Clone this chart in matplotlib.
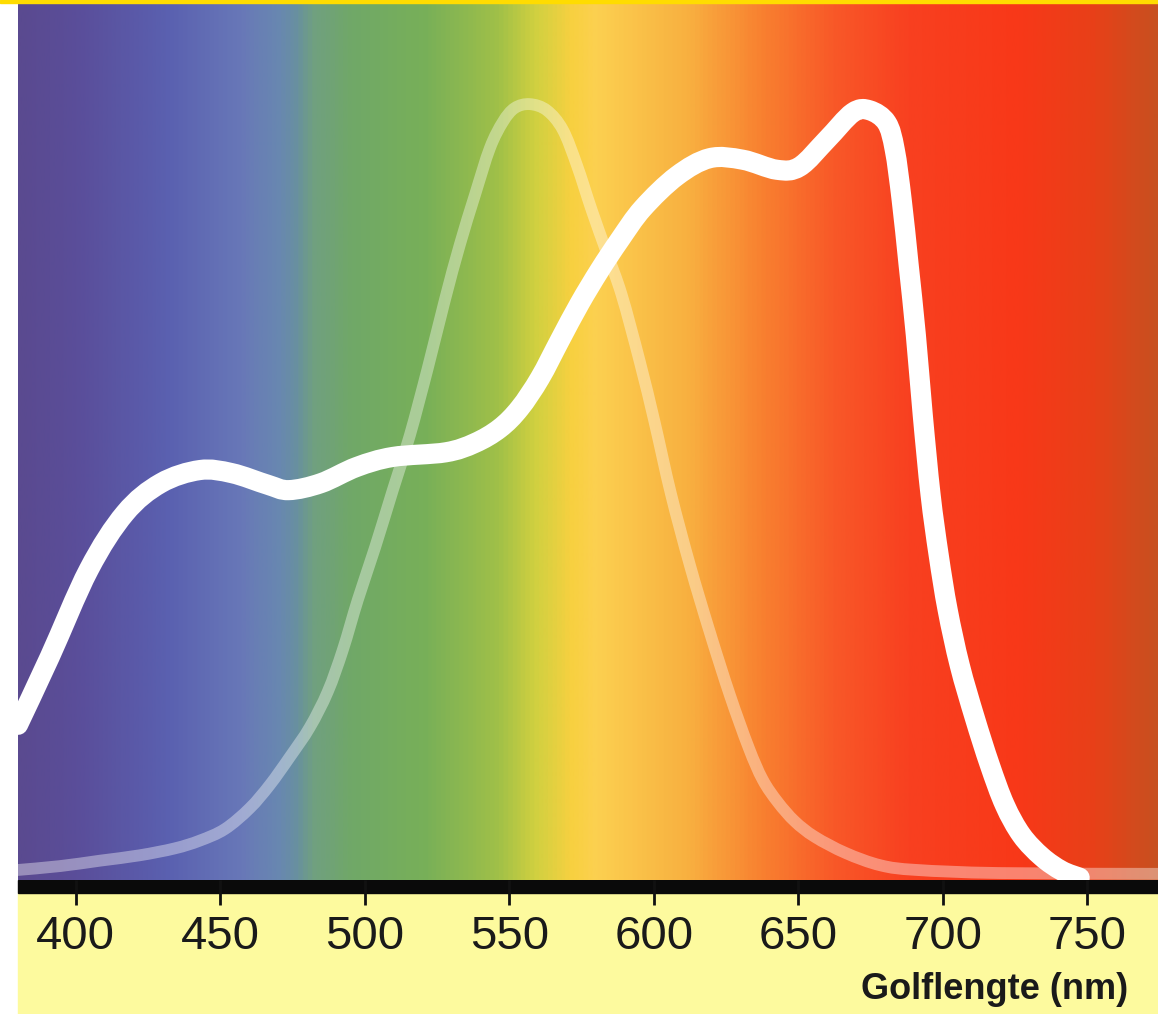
import numpy as np
from matplotlib import pyplot as plt
from matplotlib.colors import LinearSegmentedColormap
from matplotlib.patches import Rectangle, PathPatch
from matplotlib.path import Path

wl_plant = [380, 391, 404.5, 417, 429.4, 442.9, 454, 466.4, 473.7, 484.8,
            497.2, 509.7, 528, 538.1, 546.7, 553.6, 560.6, 567.5, 574.4,
            581.3, 588.2, 596.2, 608, 619.4, 630.8, 642.6, 650.5, 659.9,
            668.9, 674.7, 680.6, 683.4, 685.8, 688.2, 690.7, 693.1, 695.8,
            698.6, 701.7, 705.9, 711.1, 716.3, 721.5, 727.3, 734.3, 741.2,
            747.4]
val_plant = [20.1, 28.9, 40.2, 47.5, 51.4, 53.1, 52.7, 51.2, 50.5, 51.4,
             53.5, 54.8, 55.4, 56.6, 58.5, 61.1, 65.0, 69.9, 74.7, 79.0,
             82.9, 87.0, 91.2, 93.5, 93.3, 92.0, 92.4, 95.9, 99.4, 99.7,
             98.1, 94.6, 88.1, 79.7, 70.6, 60.2, 49.9, 42.1, 35.0, 27.8,
             21.0, 14.9, 9.7, 5.8, 3.0, 1.2, 0.3]

wl_eye = [380, 394.5, 408.3, 422.1, 434.3, 442.9, 451.6, 460.2, 467.1, 474,
          481, 487.2, 492.4, 497.6, 503.5, 509.7, 515.6, 521.8, 527.7, 532.9,
          538.1, 543.3, 547.8, 551.9, 557.1, 563, 568.5, 573.4, 578.5, 583.7,
          588.9, 595.2, 600.3, 605.9, 612.5, 619.4, 626.3, 632.9, 637.7,
          642.9, 648.8, 655.7, 666.4, 678.5, 691, 719.7, 774.5]
val_eye = [1.3, 1.8, 2.5, 3.2, 4.1, 5.1, 6.6, 9.3, 12.3, 15.9, 19.8, 24.4,
           29.8, 36.3, 43.0, 50.5, 57.6, 66.3, 75.1, 82.3, 88.7, 94.8, 98.2,
           100.0, 100.5, 99.7, 97.2, 92.6, 86.8, 81.3, 75.8, 67.1, 59.3, 50.1,
           40.8, 32.1, 24.0, 17.1, 13.0, 10.1, 7.6, 5.6, 3.5, 1.9, 1.3, 0.9,
           0.8]

ticks = [400, 450, 500, 550, 600, 650, 700, 750]
xlabel = 'Golflengte (nm)'

# kleuren van het spectrum op de achtergrond
spec_wl = [380, 400, 431, 457, 470, 476, 482, 495, 521, 546, 559, 572, 580,
           612, 638, 663, 689, 727, 753, 774.5]
spec_col = ['#5a4a90', '#5a4e9a', '#5a60b0', '#6878b8', '#6888b0', '#6890a0',
            '#70a080', '#70a868', '#78b058', '#a0c048', '#d0d040', '#f8d040',
            '#fcd050', '#f8b040', '#f88030', '#f85828', '#f84020', '#f83818',
            '#e84018', '#c85020']


def smooth_path(xs, ys):
    p = np.column_stack([xs, ys]).astype(float)
    verts = [p[0]]
    codes = [Path.MOVETO]
    n = len(p)
    for i in range(n - 1):
        p0 = p[max(i - 1, 0)]
        p1, p2 = p[i], p[i + 1]
        p3 = p[min(i + 2, n - 1)]
        verts += [p1 + (p2 - p0) / 6, p2 - (p3 - p1) / 6, p2]
        codes += [Path.CURVE4] * 3
    return Path(verts, codes)


W, H = 1158, 1014
fig = plt.figure(figsize=(W / 100, H / 100), dpi=100)
fig.patch.set_facecolor('white')

ax = fig.add_axes([18 / W, (H - 880) / H, (W - 18) / W, 877 / H])
x0, x1 = 380, 774.5
y0, y1 = 0, 113.6

pos = [(w - x0) / (x1 - x0) for w in spec_wl]
cmap = LinearSegmentedColormap.from_list('spec', list(zip(pos, spec_col)))
grad = np.linspace(0, 1, 1000)[None, :]
ax.imshow(grad, cmap=cmap, aspect='auto', extent=(x0, x1, y0, y1),
          interpolation='bilinear', zorder=0)

ax.add_patch(PathPatch(smooth_path(wl_eye, val_eye), fill=False,
                       edgecolor='white', alpha=0.38, lw=8.5,
                       capstyle='round', joinstyle='round', zorder=2))
ax.add_patch(PathPatch(smooth_path(wl_plant, val_plant), fill=False,
                       edgecolor='white', lw=14.5,
                       capstyle='round', joinstyle='round', zorder=3))

ax.set_xlim(x0, x1)
ax.set_ylim(y0, y1)
ax.set_yticks([])
ax.set_xticks(ticks)
ax.set_xticklabels([str(t) for t in ticks], fontsize=34,
                   family='Liberation Sans', color='#1a1a1a')
ax.tick_params(axis='x', direction='out', length=18, width=2,
               color='#111111', pad=7)
for s in ax.spines.values():
    s.set_visible(False)

# balk, onderrand en bovenrand
fig.patches.append(Rectangle((18 / W, 0), (W - 18) / W, (H - 893) / H,
                             transform=fig.transFigure, color='#fdfa9e',
                             zorder=-2))
fig.patches.append(Rectangle((18 / W, (H - 893) / H), (W - 18) / W, 13 / H,
                             transform=fig.transFigure, color='#0a0a0a',
                             zorder=-1))
fig.patches.append(Rectangle((0, 1 - 3 / H), 1, 3 / H,
                             transform=fig.transFigure, color='#ffdc00',
                             zorder=5))

fig.text(1128 / W, 1 - 999 / H, xlabel, ha='right', va='baseline',
         fontsize=26, fontweight='bold', family='Liberation Sans',
         color='#1a1a1a')

fig.savefig('out.png', dpi=100)
